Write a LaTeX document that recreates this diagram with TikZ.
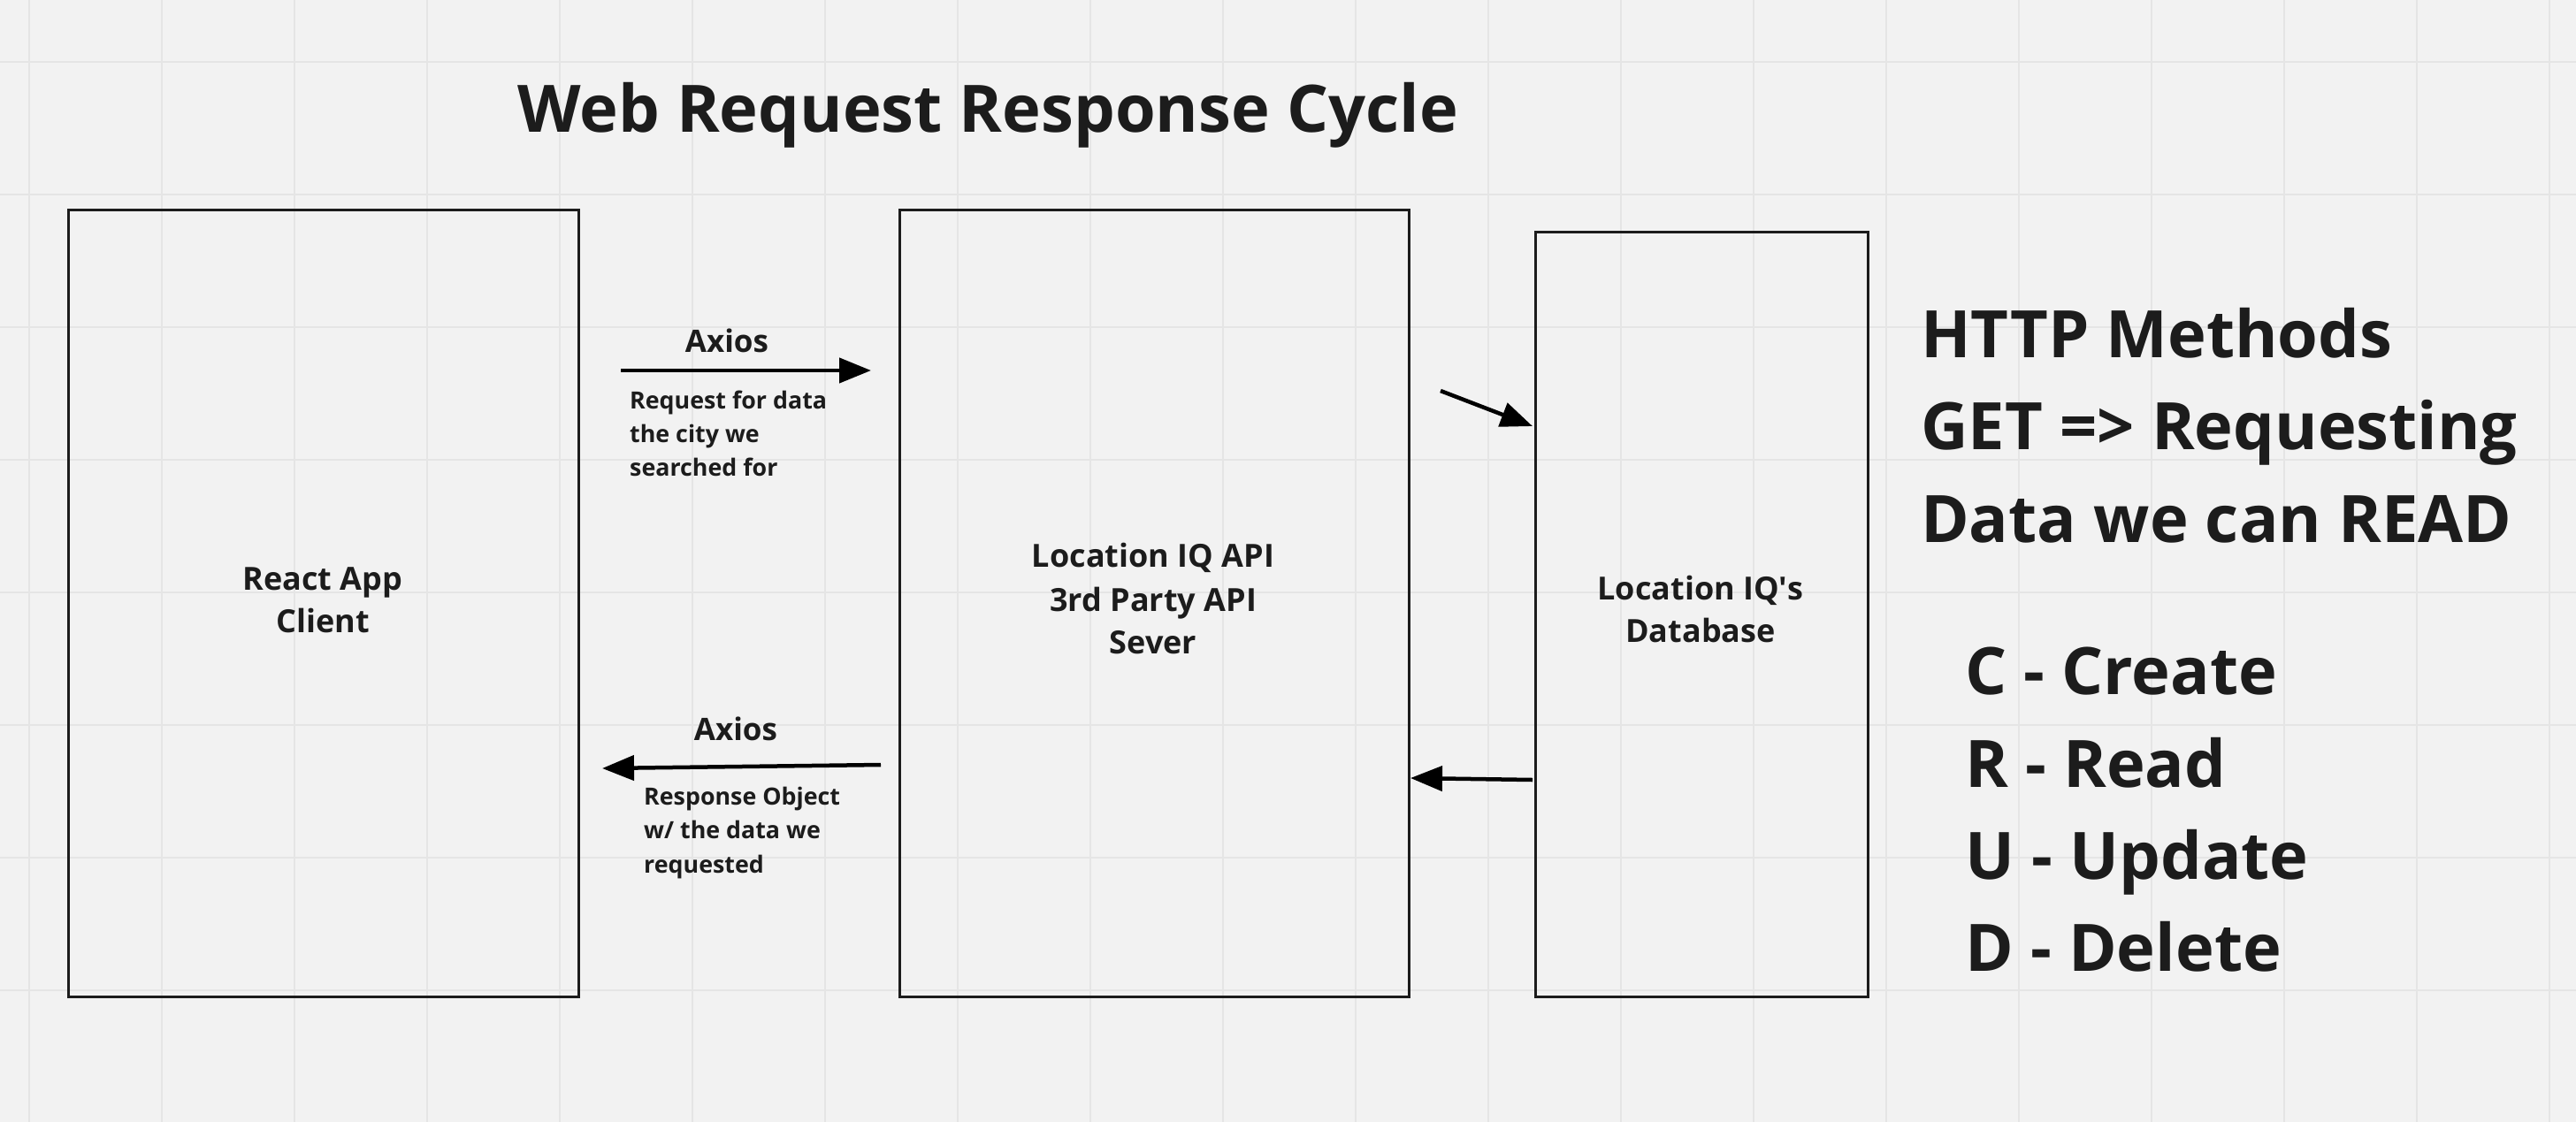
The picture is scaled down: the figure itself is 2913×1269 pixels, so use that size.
\documentclass[tikz,border=0pt]{standalone}
\usepackage{fontspec}
\setmainfont{Open Sans}
\usetikzlibrary{arrows.meta}
\definecolor{bg}{HTML}{F2F2F2}
\definecolor{gridc}{HTML}{E5E5E5}
\definecolor{ink}{HTML}{1C1C1C}
\begin{document}
\begin{tikzpicture}[x=1pt,y=-1pt,
  box/.style={draw=ink, line width=3pt, inner sep=0pt, anchor=north west},
  lbl/.style={text=ink, inner sep=0pt, anchor=base},
  big/.style={lbl, font=\bfseries\fontsize{74}{90}\selectfont},
  mid/.style={lbl, font=\bfseries\fontsize{36}{44}\selectfont},
  axl/.style={lbl, font=\bfseries\fontsize{35}{42}\selectfont},
  sml/.style={lbl, anchor=base west, font=\bfseries\fontsize{26.8}{30}\selectfont},
  arr/.style={draw=black, line width=4.5pt, -{Triangle[length=36pt,width=28pt]}}]
\fill[bg] (0,0) rectangle (2913,1269);
\useasboundingbox (0,0) rectangle (2913,1269);
\foreach \x in {33,183,...,2913} \draw[gridc, line width=1.5pt] (\x,0) -- (\x,1269);
\foreach \y in {70,220,...,1269} \draw[gridc, line width=1.5pt] (0,\y) -- (2913,\y);

% title
\node[big, anchor=base west] (title) at (585,149) {Web Request Response Cycle};

% boxes
\node[box, minimum width=577pt, minimum height=890pt] (client) at (76,236) {};
\node[box, minimum width=576pt, minimum height=890pt] (server) at (1016,236) {};
\node[box, minimum width=376pt, minimum height=865pt] (db) at (1735,261) {};

% box texts
\node[mid] (c1) at (365,667) {React App};
\node[mid] (c2) at (365,715) {Client};
\node[mid] (s1) at (1304,641) {Location IQ API};
\node[mid] (s2) at (1304,691) {3rd Party API};
\node[mid] (s3) at (1304,739) {Sever};
\node[mid] (d1) at (1923,678) {Location IQ\textquotesingle s};
\node[mid] (d2) at (1923,726) {Database};

% request arrow
\coordinate (rqA) at (702,419);
\coordinate (rqB) at (985,419);
\draw[arr] (rqA) -- (rqB);
\node[axl] (ax1) at (822,398) {Axios};
\node[sml] (rq1) at (712,462) {Request for data};
\node[sml] (rq2) at (712,500) {the city we};
\node[sml] (rq3) at (712,538) {searched for};

% server to db
\coordinate (sdA) at (1629,442);
\coordinate (sdB) at (1733,482);
\draw[arr] (sdA) -- (sdB);

% db to server
\coordinate (dsA) at (1733,882);
\coordinate (dsB) at (1595,880);
\draw[arr] (dsA) -- (dsB);

% response arrow
\coordinate (rsA) at (996,865);
\coordinate (rsB) at (681,869);
\draw[arr] (rsA) -- (rsB);
\node[axl] (ax2) at (832,837) {Axios};
\node[sml] (rs1) at (728,910) {Response Object};
\node[sml] (rs2) at (728,948) {w/ the data we};
\node[sml] (rs3) at (728,987) {requested};

% HTTP methods
\node[big, anchor=base west] (h1) at (2172,404) {HTTP Methods};
\node[big, anchor=base west] (h2) at (2172,508) {GET => Requesting};
\node[big, anchor=base west] (h3) at (2172,613) {Data we can READ};
\node[big, anchor=base west] (m1) at (2222,785) {C - Create};
\node[big, anchor=base west] (m2) at (2222,890) {R - Read};
\node[big, anchor=base west] (m3) at (2222,994) {U - Update};
\node[big, anchor=base west] (m4) at (2222,1098) {D - Delete};
\end{tikzpicture}
\end{document}
